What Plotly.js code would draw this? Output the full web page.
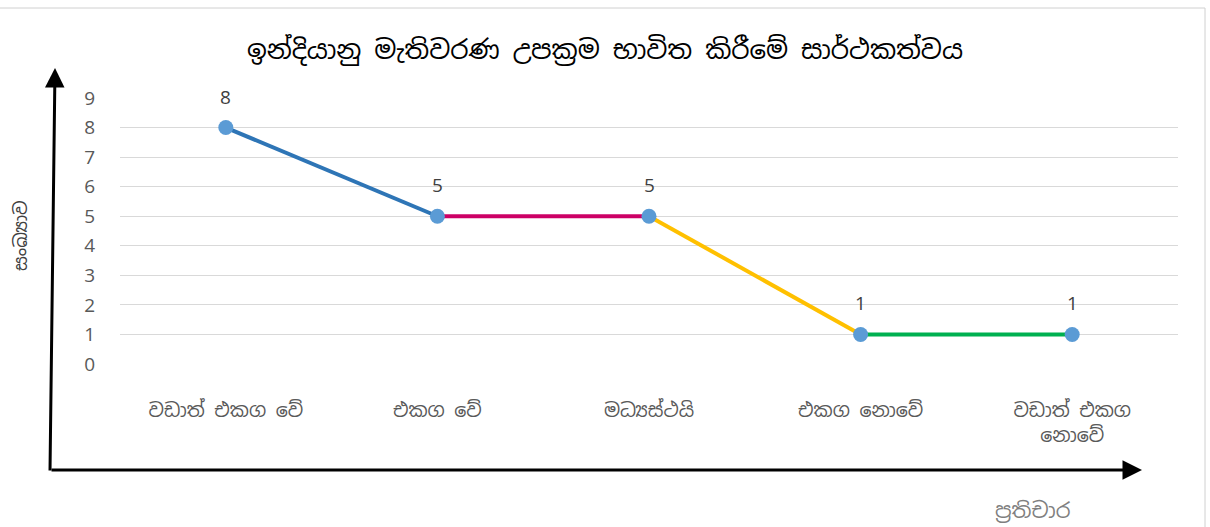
<!DOCTYPE html>
<html>
<head>
<meta charset="utf-8">
<script src="https://cdn.plot.ly/plotly-3.0.1.min.js"></script>
<style>html,body{margin:0;padding:0;background:#fff;}#chart{width:1210px;height:527px;}</style>
</head>
<body>
<div id="chart"></div>
<script>
const categories = ["වඩාත් එකග වේ", "එකග වේ", "මධ්‍යස්ථයි", "එකග නොවේ", "වඩාත් එකග<br>නොවේ"];
const values = [8, 5, 5, 1, 1];
const segmentColors = ["#2e75b6", "#cc0066", "#ffc000", "#00b050"];
const titleText = "ඉන්දියානු මැතිවරණ උපක්‍රම භාවිත කිරීමේ සාර්ථකත්වය";
const yTitle = "සංඛ්‍යාව";
const xTitle = "ප්‍රතිචාර";
const yTicks = [0,1,2,3,4,5,6,7,8,9];

const FONT = "'Noto Sans Sinhala', 'Iskoola Pota', 'Noto Sans', 'DejaVu Sans', sans-serif";
const NUMFONT = "'Open Sans', 'Noto Sans', sans-serif";
const traces = [];
for (let i = 0; i < values.length - 1; i++) {
  traces.push({
    x: [categories[i], categories[i+1]],
    y: [values[i], values[i+1]],
    type: 'scatter', mode: 'lines',
    line: {color: segmentColors[i], width: 4},
    hoverinfo: 'skip', showlegend: false
  });
}
traces.push({
  x: categories, y: values, type: 'scatter', mode: 'markers',
  marker: {color: '#5b9bd5', size: 15},
  showlegend: false, cliponaxis: false
});

// layout geometry helpers (pixel -> paper)
const L = 120, R = 1178, T = 98, B = 364;
const px = v => (v - L) / (R - L);
const py = v => (B - v) / (B - T);

const labelAnns = categories.map((c, i) => ({
  x: c, y: values[i], xref: 'x', yref: 'y', text: String(values[i]), showarrow: false,
  yshift: 31, font: {size: 19, color: '#404040', family: NUMFONT}, xanchor: 'center', yanchor: 'middle'
}));

const layout = {
  width: 1210, height: 527,
  margin: {l: L, r: 1210 - R, t: T, b: 527 - B},
  paper_bgcolor: '#ffffff', plot_bgcolor: '#ffffff',
  font: {family: FONT, color: '#595959'},
  title: {text: titleText, font: {size: 26, color: '#000000', family: FONT}, x: 0.5, xanchor: 'center', y: 0.905, yanchor: 'middle'},
  xaxis: {
    type: 'category', range: [-0.5, 4.5], showgrid: false, zeroline: false, showline: false,
    ticks: 'outside', ticklen: 29, tickcolor: 'rgba(0,0,0,0)',
    tickfont: {size: 19, color: '#595959', family: FONT}, fixedrange: true
  },
  yaxis: {
    range: [0, 9], tickvals: yTicks, showgrid: true, gridcolor: '#d9d9d9', gridwidth: 1,
    zeroline: false, showline: false,
    ticks: 'outside', ticklen: 20, tickcolor: 'rgba(0,0,0,0)',
    tickfont: {size: 19, color: '#595959', family: NUMFONT}, fixedrange: true
  },
  annotations: labelAnns.concat([
    {xref: 'paper', yref: 'paper', x: px(55), y: py(68), ax: -5, ay: 404, text: '', showarrow: true,
     arrowhead: 2, arrowsize: 1.3, arrowwidth: 3, arrowcolor: '#000000'},
    {xref: 'paper', yref: 'paper', x: px(1142), y: py(470), ax: -1092, ay: 0, text: '', showarrow: true,
     arrowhead: 2, arrowsize: 1.3, arrowwidth: 3, arrowcolor: '#000000'},
    {xref: 'paper', yref: 'paper', x: px(20), y: py(236), text: yTitle, showarrow: false, textangle: -90,
     font: {size: 18, color: '#404040', family: FONT}, xanchor: 'center', yanchor: 'middle'},
    {xref: 'paper', yref: 'paper', x: px(1033), y: py(510), text: xTitle, showarrow: false,
     font: {size: 21, color: '#7f7f7f', family: FONT}, xanchor: 'center', yanchor: 'middle'}
  ]),
  shapes: [
    {type: 'line', xref: 'paper', yref: 'paper', x0: px(0), x1: px(1205), y0: py(8), y1: py(8), line: {color: '#d0d0d0', width: 1}},
    {type: 'line', xref: 'paper', yref: 'paper', x0: px(1205), x1: px(1205), y0: py(8), y1: py(527), line: {color: '#d0d0d0', width: 1}}
  ]
};

Plotly.newPlot('chart', traces, layout, {displayModeBar: false, staticPlot: true});
</script>
</body>
</html>
